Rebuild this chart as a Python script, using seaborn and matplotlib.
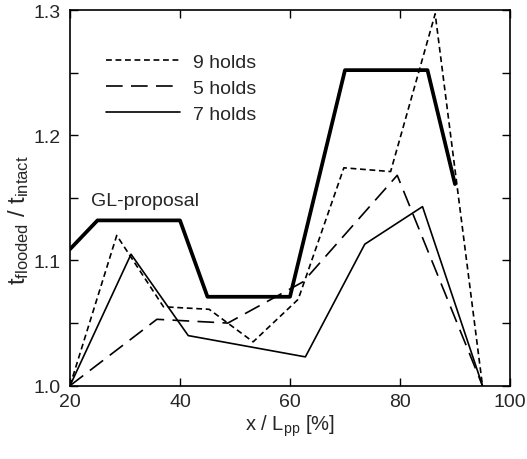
import numpy as np
import pandas as pd
import seaborn as sns
import matplotlib.pyplot as plt
from matplotlib.ticker import MultipleLocator

# data
gl_x = [20, 25, 40, 45, 60, 70, 85, 90]
gl_y = [1.109, 1.132, 1.132, 1.071, 1.071, 1.252, 1.252, 1.161]

holds9_x = [20, 28.5, 37, 45.3, 53.3, 61.5, 69.8, 78.3, 86.4, 95]
holds9_y = [1.0, 1.120, 1.063, 1.061, 1.035, 1.069, 1.174, 1.171, 1.297, 1.0]

holds5_x = [20, 35.8, 48.7, 62.4, 79.5, 95]
holds5_y = [1.0, 1.053, 1.050, 1.083, 1.168, 1.0]

holds7_x = [20, 31.1, 41.5, 62.8, 73.6, 84.1, 95]
holds7_y = [1.0, 1.105, 1.040, 1.023, 1.113, 1.143, 1.0]

sns.set_style('ticks')
plt.rcParams['font.family'] = ['Liberation Sans', 'DejaVu Sans']
plt.rcParams['mathtext.default'] = 'regular'

fig = plt.figure(figsize=(5.27, 4.60), dpi=100)
ax = fig.add_axes([0.1328, 0.1594, 0.8349, 0.8166])

# Plot
sns.lineplot(x=gl_x, y=gl_y, ax=ax, color='black', lw=2.7, sort=False)
sns.lineplot(x=holds9_x, y=holds9_y, ax=ax, color='black', lw=1.2,
             linestyle=(0, (3.5, 2.2)), sort=False, label='9 holds')
sns.lineplot(x=holds5_x, y=holds5_y, ax=ax, color='black', lw=1.2,
             linestyle=(0, (10, 5)), sort=False, label='5 holds')
sns.lineplot(x=holds7_x, y=holds7_y, ax=ax, color='black', lw=1.2,
             sort=False, label='7 holds')

ax.text(23.8, 1.148, 'GL-proposal', fontsize=14, va='center', ha='left')

# Increase appearence
ax.set_xlim(20, 100)
ax.set_ylim(1.0, 1.3)
ax.xaxis.set_major_locator(MultipleLocator(20))
ax.yaxis.set_minor_locator(MultipleLocator(0.05))
ax.set_yticks([1.0, 1.1, 1.2, 1.3])
ax.set_yticklabels(['1.0', '1.1', '1.2', '1.3'])
ax.tick_params(which='both', direction='in', top=True, right=True,
               length=6, width=1.0, color='black', labelsize=14)
ax.tick_params(axis='x', pad=5)
ax.tick_params(axis='y', pad=7)
for sp in ax.spines.values():
    sp.set_linewidth(1.2)
    sp.set_color('black')

ax.set_xlabel('x / L$_{pp}$ [%]', fontsize=14.5, labelpad=2)
ax.set_ylabel('t$_{flooded}$ / t$_{intact}$', fontsize=17)
ax.yaxis.set_label_coords(-0.088, 0.444)

ax.legend(loc='upper left', bbox_to_anchor=(0.064, 0.905), frameon=False,
          fontsize=14, handlelength=3.8, handletextpad=0.67,
          labelspacing=0.42, borderaxespad=0)

plt.savefig('out.png', dpi=100)
plt.close(fig)
